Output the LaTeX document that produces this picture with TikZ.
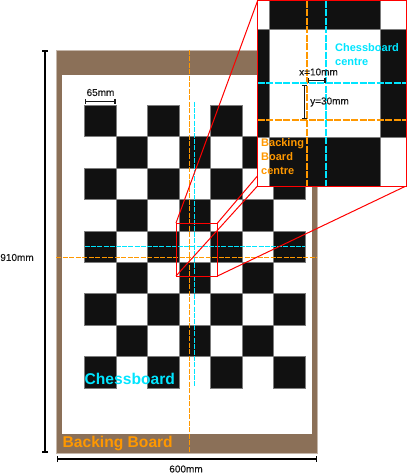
\documentclass[tikz,border=0pt]{standalone}
\usepackage{fontspec}
\usetikzlibrary{arrows.meta}
\setmainfont{Liberation Sans}
\newfontfamily\labf[FakeBold=0.25]{Liberation Sans}
\definecolor{brownb}{HTML}{8B7058}
\definecolor{sq}{HTML}{111111}
\definecolor{cy}{HTML}{00E5FF}
\definecolor{og}{HTML}{FF9800}
\tikzset{
 px/.style={x=1pt,y=-1pt},
 sqr/.style={fill=sq,draw=sq!55!white,line width=.6pt},
 redl/.style={draw=red,line width=1pt},
 cdash/.style={draw=cy,line width=1.2pt,dash pattern=on 5pt off 1.2pt},
 guideo/.style={draw=og,line width=1.2pt,dash pattern=on 5pt off 1.5pt},
 cdashb/.style={draw=cy,line width=2.4pt,dash pattern=on 7pt off 1.5pt},
 odashb/.style={draw=og,line width=2.4pt,dash pattern=on 7pt off 1.5pt},
 dim/.style={draw=black,line width=2pt,{Bar[width=6pt,line width=1.2pt]}-{Bar[width=6pt,line width=1.2pt]}},
 dimthin/.style={draw=black!90,line width=1pt,{Bar[width=5pt,line width=1.2pt]}-{Bar[width=5pt,line width=1.2pt]}},
 lab/.style={inner sep=0pt,font=\labf\fontsize{10}{10}\selectfont,text=black!90},
 big/.style={inner sep=0pt,anchor=west,font=\fontsize{15.6}{17}\selectfont\bfseries},
 mid/.style={inner sep=0pt,anchor=west,font=\fontsize{11}{14}\selectfont\bfseries,align=left},
}
\begin{document}
\begin{tikzpicture}[px]
\useasboundingbox (0,0) rectangle (408,476);
% backing board
\fill[brownb,draw=brownb!50!white,line width=.5pt] (56,50) rectangle (317,453);
\fill[white,draw=white] (62,75) rectangle (311,433);
% squares
\foreach \r in {0,...,8}{\foreach \c in {0,...,6}{
  \pgfmathtruncatemacro{\odd}{mod(\r+\c,2)}
  \ifnum\odd=0
   \fill[sqr] ({84.7+31.45*\c},{105+31.45*\r}) rectangle ++(31.45,31.45);
  \fi
}}
% guide lines
\coordinate (ot) at (189.3,50); \coordinate (ob) at (189.3,453);
\coordinate (ol) at (56,257.3); \coordinate (ort) at (317,257.3);
\coordinate (ct) at (194.5,102); \coordinate (cb) at (194.5,386);
\coordinate (cl) at (85,246.5); \coordinate (cr) at (305,246.5);
\draw[guideo] (ot) -- (ob); \draw[guideo] (ol) -- (ort);
\draw[cdash] (ct) -- (cb); \draw[cdash] (cl) -- (cr);
% callout
\coordinate (bTL) at (176,223); \coordinate (bTR) at (217.5,223);
\coordinate (bBL) at (176,276); \coordinate (bBR) at (217.5,276);
\coordinate (iTL) at (257.5,1); \coordinate (iTR) at (406,1);
\coordinate (iBL) at (257.5,186); \coordinate (iBR) at (406,186);
\draw[redl] (bTL) -- (iTL); \draw[redl] (bTR) -- (iTR);
\draw[redl] (bBL) -- (iBL); \draw[redl] (bBR) -- (iBR);
\draw[redl] (bTL) rectangle (bBR);
% inset
\fill[white] (iTL) rectangle (iBR);
\begin{scope}
\clip (iTL) rectangle (iBR);
\fill[sqr] (269.5,-3) rectangle (380,29);
\fill[sqr] (250,29) rectangle (269.5,137.5);
\fill[sqr] (380,29) rectangle (410,137.5);
\fill[sqr] (269.5,137.5) rectangle (380,190);
\draw[odashb] (306.7,1) -- (306.7,186);
\draw[odashb] (257.5,120) -- (406,120);
\draw[cdashb] (325.7,1) -- (325.7,186);
\draw[cdashb] (257.5,83) -- (406,83);
\end{scope}
\draw[redl] (iTL) rectangle (iBR);
% inset brackets
\coordinate (xa) at (308,80.5); \coordinate (xb) at (325.5,80.5);
\coordinate (ya) at (304.5,85); \coordinate (yb) at (304.5,119);
\draw[dimthin] (xa) -- (xb);
\draw[dimthin] (ya) -- (yb);
\node[lab] (xlab) at (318.5,72) {x=10mm};
\node[lab] (ylab) at (329.5,102) {y=30mm};
\node[mid,text=cy] (cclab) at (335,55) {Chessboard\\centre};
\node[mid,text=og] (bblab) at (261,157) {Backing\\Board\\centre};
% dimensions
\coordinate (da) at (45,50.5); \coordinate (db) at (45,452.5);
\coordinate (wa) at (57,459); \coordinate (wb) at (317,459);
\coordinate (sa) at (85,101.5); \coordinate (sb) at (115.5,101.5);
\draw[dim] (da) -- (db);
\draw[dim] (wa) -- (wb);
\draw[dimthin] (sa) -- (sb);
\node[lab] (hlab) at (17,257.5) {910mm};
\node[lab] (wlab) at (186,469) {600mm};
\node[lab] (slab) at (100.5,92.5) {65mm};
\node[big,text=cy] (chess) at (84.5,378.5) {Chessboard};
\node[big,text=og] (back) at (62.5,443) {Backing Board};
\end{tikzpicture}
\end{document}
